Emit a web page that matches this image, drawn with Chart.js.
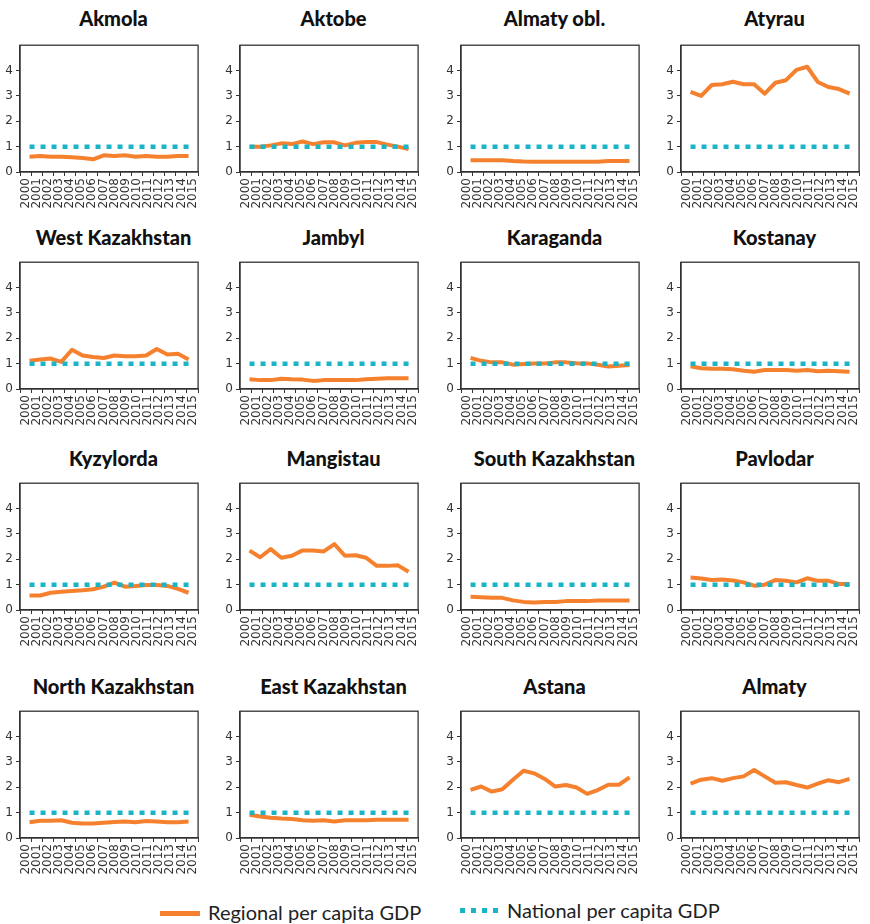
<!DOCTYPE html>
<html><head><meta charset="utf-8">
<script src="https://cdn.jsdelivr.net/npm/chart.js@4.4.0/dist/chart.umd.min.js"></script>
<style>
html,body{margin:0;padding:0;background:#fff;width:870px;height:924px;overflow:hidden;}
#root{position:relative;width:870px;height:924px;}
.panel{position:absolute;}
.title{position:absolute;font-family:Lato,"Noto Sans",sans-serif;font-weight:900;font-size:20px;color:#111;text-align:center;white-space:nowrap;line-height:24px;}
.leg{position:absolute;font-family:Lato,"Noto Sans",sans-serif;font-size:20px;color:#222;white-space:nowrap;line-height:22px;}
.sw{position:absolute;}
</style></head><body>
<div id="root"></div>
<script>
const years = ['2000','2001','2002','2003','2004','2005','2006','2007','2008','2009','2010','2011','2012','2013','2014','2015'];
const yTicks = [0,1,2,3,4];
const regions = ['Akmola','Aktobe','Almaty obl.','Atyrau','West Kazakhstan','Jambyl','Karaganda','Kostanay','Kyzylorda','Mangistau','South Kazakhstan','Pavlodar','North Kazakhstan','East Kazakhstan','Astana','Almaty'];
const national = [1,1,1,1,1,1,1,1,1,1,1,1,1,1,1,1];
const akmola = [0.6,0.63,0.6,0.6,0.58,0.55,0.5,0.66,0.63,0.66,0.6,0.63,0.6,0.6,0.63,0.63];
const aktobe = [1.0,1.0,1.05,1.13,1.1,1.2,1.1,1.17,1.17,1.05,1.15,1.18,1.18,1.08,1.0,0.9];
const almatyObl = [0.46,0.46,0.46,0.46,0.43,0.41,0.4,0.4,0.4,0.4,0.4,0.4,0.4,0.43,0.43,0.43];
const atyrau = [3.16,3.0,3.43,3.46,3.56,3.46,3.46,3.09,3.52,3.62,4.03,4.15,3.55,3.35,3.27,3.09];
const westKaz = [1.11,1.16,1.2,1.07,1.55,1.32,1.26,1.22,1.32,1.29,1.29,1.32,1.58,1.36,1.39,1.16];
const jambyl = [0.38,0.35,0.35,0.4,0.38,0.37,0.32,0.35,0.35,0.35,0.35,0.38,0.4,0.42,0.42,0.42];
const karaganda = [1.23,1.11,1.05,1.05,0.96,0.99,1.01,1.01,1.05,1.05,1.02,1.01,0.96,0.89,0.92,0.95];
const kostanay = [0.9,0.82,0.8,0.8,0.78,0.72,0.68,0.75,0.75,0.75,0.72,0.75,0.7,0.72,0.7,0.68];
const kyzylorda = [0.57,0.57,0.68,0.72,0.75,0.78,0.82,0.92,1.08,0.92,0.95,0.99,0.99,0.95,0.83,0.68];
const mangistau = [2.34,2.08,2.4,2.06,2.14,2.35,2.35,2.31,2.6,2.14,2.16,2.06,1.74,1.74,1.76,1.51];
const southKaz = [0.52,0.5,0.48,0.48,0.38,0.32,0.3,0.32,0.32,0.35,0.35,0.35,0.37,0.37,0.37,0.37];
const pavlodar = [1.28,1.24,1.18,1.2,1.16,1.09,0.96,1.0,1.18,1.15,1.09,1.25,1.15,1.15,1.03,1.03];
const northKaz = [0.62,0.68,0.68,0.7,0.6,0.57,0.57,0.6,0.63,0.65,0.62,0.67,0.65,0.62,0.62,0.65];
const eastKaz = [0.92,0.85,0.8,0.77,0.75,0.7,0.68,0.7,0.65,0.7,0.7,0.7,0.72,0.72,0.72,0.72];
const astana = [1.9,2.03,1.83,1.92,2.3,2.65,2.55,2.33,2.03,2.09,1.99,1.74,1.89,2.1,2.1,2.39];
const almaty = [2.14,2.3,2.36,2.26,2.36,2.43,2.68,2.43,2.18,2.2,2.09,1.99,2.14,2.28,2.2,2.33];
const regionalSeries = [akmola,aktobe,almatyObl,atyrau,westKaz,jambyl,karaganda,kostanay,kyzylorda,mangistau,southKaz,pavlodar,northKaz,eastKaz,astana,almaty];

const ORANGE = '#F5812E';
const TEAL = '#19B5C7';
const AXIS = '#333333';

const plotTops = [41,258,479,707];
const titleCenters = [18,237,458,686];
const plotLefts = [20,240,461,681];
const PW = 187, PH = 131, YW = 20, XH = 42, PADT = 6;

const framePlugin = {
  id:'frame',
  afterDraw(chart){
    const a = chart.chartArea, c = chart.ctx;
    c.save();
    c.strokeStyle = AXIS; c.lineWidth = 1.3;
    c.strokeRect(a.left, a.top, a.right-a.left, a.bottom-a.top);
    c.restore();
  }
};

const root = document.getElementById('root');
regions.forEach((name, i) => {
  const r = Math.floor(i/4), col = i%4;
  const pl = plotLefts[col], pt = plotTops[r];
  const t = document.createElement('div');
  t.className = 'title';
  t.style.left = (pl-40)+'px'; t.style.width = (PW+80)+'px';
  t.style.top = (titleCenters[r]-12)+'px';
  t.textContent = name;
  root.appendChild(t);

  const d = document.createElement('div');
  d.className = 'panel';
  const W = YW + PW + 2, H = PADT + PH + XH;
  d.style.left = (pl-YW)+'px'; d.style.top = (pt-PADT)+'px';
  d.style.width = W+'px'; d.style.height = H+'px';
  const cv = document.createElement('canvas');
  d.appendChild(cv); root.appendChild(d);

  const vals = regionalSeries[i];
  new Chart(cv, {
    type:'line',
    data:{
      labels: years,
      datasets:[
        {label:'National per capita GDP', xAxisID:'xd', data: years.map((y,k)=>({x:+y, y:national[k]})),
         borderColor:TEAL, borderWidth:4.5, borderDash:[5,6], borderCapStyle:'butt', pointRadius:0, tension:0, fill:false},
        {label:'Regional per capita GDP', xAxisID:'xd', data: years.map((y,k)=>({x:+y, y:vals[k]})),
         borderColor:ORANGE, borderWidth:4, borderJoinStyle:'round', pointRadius:0, tension:0, fill:false}
      ]
    },
    options:{
      responsive:true, maintainAspectRatio:false, animation:false, devicePixelRatio:1,
      layout:{padding:{top:PADT, right:2, left:0, bottom:0}},
      plugins:{legend:{display:false}, tooltip:{enabled:false}, title:{display:false}},
      scales:{
        x:{type:'category', offset:true, position:'bottom',
           afterFit(s){ s.height = XH; },
           grid:{display:true, drawOnChartArea:false, drawTicks:true, tickLength:4, offset:true, color:AXIS, lineWidth:1},
           border:{display:true, color:AXIS, width:1.3},
           ticks:{autoSkip:false, maxRotation:90, minRotation:90, padding:2, color:AXIS, font:{family:'"DejaVu Sans"', size:12}}
        },
        xd:{type:'linear', display:false, min:1999.1, max:2015.9},
        y:{type:'linear', min:0, max:5,
           afterFit(s){ s.width = YW; },
           afterBuildTicks(s){ s.ticks = yTicks.map(v=>({value:v})); },
           grid:{display:true, drawOnChartArea:false, drawTicks:true, tickLength:4, color:AXIS, lineWidth:1},
           border:{display:true, color:AXIS, width:1.3},
           ticks:{padding:3, color:AXIS, font:{family:'"DejaVu Sans"', size:12}}
        }
      }
    },
    plugins:[framePlugin]
  });
});

// legend
function addEl(cls, css, text){
  const e = document.createElement('div'); e.className = cls;
  Object.assign(e.style, css); if (text) e.textContent = text; root.appendChild(e); return e;
}
addEl('sw', {left:'160px', top:'911px', width:'40px', height:'5px', background:ORANGE});
addEl('leg', {left:'208px', top:'901px'}, 'Regional per capita GDP');
addEl('sw', {left:'460px', top:'908px', width:'38px', height:'5px',
  background:`repeating-linear-gradient(90deg, ${TEAL} 0 5px, transparent 5px 11px)`});
addEl('leg', {left:'507px', top:'899px'}, 'National per capita GDP');
</script>
</body></html>
